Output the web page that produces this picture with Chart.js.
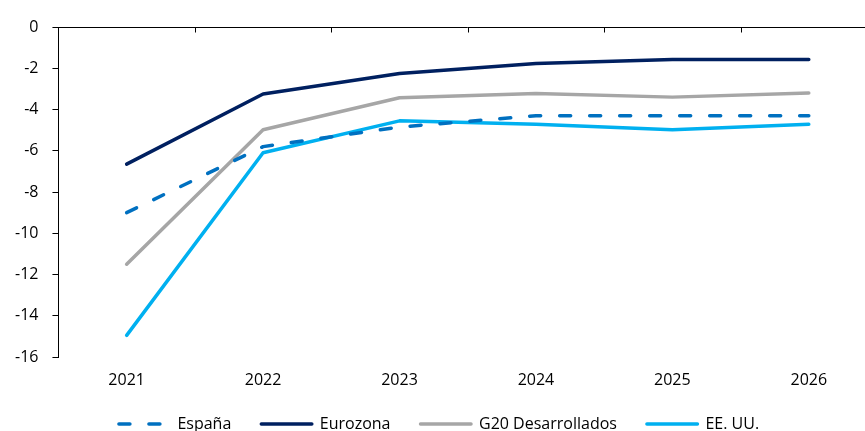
<!DOCTYPE html>
<html>
<head>
<meta charset="utf-8">
<script src="https://cdn.jsdelivr.net/npm/chart.js@4"></script>
<style>
  html, body { margin: 0; padding: 0; background: #fff; overflow: hidden; }
  #wrap { width: 877px; height: 442px; }
</style>
</head>
<body>
<div id="wrap"><canvas id="grafico"></canvas></div>
<script>
const years = ["2021", "2022", "2023", "2024", "2025", "2026"];
const espana = [-9.0, -5.8, -4.85, -4.3, -4.3, -4.3];
const eurozona = [-6.65, -3.25, -2.25, -1.77, -1.58, -1.58];
const g20 = [-11.5, -4.98, -3.43, -3.23, -3.4, -3.2];
const eeuu = [-14.95, -6.1, -4.55, -4.72, -4.98, -4.72];
const yTicks = [0, -2, -4, -6, -8, -10, -12, -14, -16];

const fontFamily = "'Open Sans', sans-serif";

// eje horizontal en y=0 (arriba) con marcas hacia dentro
const ejeSuperior = {
  id: 'ejeSuperior',
  beforeDraw(chart) {
    // las etiquetas del eje x no se recortan a la caja del eje
    chart.scales.x._computeLabelArea = () => undefined;
  },
  afterDraw(chart) {
    const ctx = chart.ctx;
    const x = chart.scales.x;
    const y = chart.scales.y;
    const y0 = Math.round(y.getPixelForValue(0)) + 0.5;
    ctx.save();
    ctx.strokeStyle = '#000';
    ctx.lineWidth = 1;
    ctx.beginPath();
    ctx.moveTo(chart.chartArea.left, y0);
    ctx.lineTo(chart.chartArea.right, y0);
    for (let i = 0; i < years.length; i++) {
      const px = Math.round((x.getPixelForValue(i) + x.getPixelForValue(i + 1)) / 2) + 0.5;
      ctx.moveTo(px, y0);
      ctx.lineTo(px, y0 + 5);
    }
    ctx.stroke();
    ctx.restore();
  }
};

function serie(label, data, color, dash) {
  return {
    label: label,
    data: data,
    borderColor: color,
    backgroundColor: color,
    borderWidth: 3.5,
    borderDash: dash || [],
    borderCapStyle: 'round',
    borderJoinStyle: 'round',
    pointRadius: 0,
    tension: 0
  };
}

new Chart(document.getElementById('grafico'), {
  type: 'line',
  data: {
    labels: years,
    datasets: [
      serie('España', espana, '#0070C0', [11, 19]),
      serie('Eurozona', eurozona, '#002060'),
      serie('G20 Desarrollados', g20, '#A6A6A6'),
      serie('EE. UU.', eeuu, '#00B0F0')
    ]
  },
  options: {
    responsive: true,
    maintainAspectRatio: false,
    animation: false,
    layout: { autoPadding: false, padding: { left: 1, right: 0, top: 27, bottom: 0 } },
    plugins: {
      tooltip: { enabled: false },
      legend: {
        position: 'bottom',
        labels: {
          boxWidth: 50.5,
          boxHeight: 0,
          padding: 30,
          color: '#000',
          font: { family: fontFamily, size: 16 }
        }
      }
    },
    scales: {
      x: {
        offset: true,
        grid: { display: false, drawTicks: false },
        border: { display: false },
        ticks: { color: '#000', padding: 14, font: { family: fontFamily, size: 16 } },
        afterFit(scale) { scale.height = 29; }
      },
      y: {
        min: -16,
        max: 0,
        afterBuildTicks(scale) { scale.ticks = yTicks.map(v => ({ value: v })); },
        grid: { drawOnChartArea: false, color: '#000', tickLength: 6 },
        border: { display: true, color: '#000', width: 1 },
        ticks: { color: '#000', padding: 14, font: { family: fontFamily, size: 16 } }
      }
    }
  },
  plugins: [ejeSuperior]
});
</script>
</body>
</html>
